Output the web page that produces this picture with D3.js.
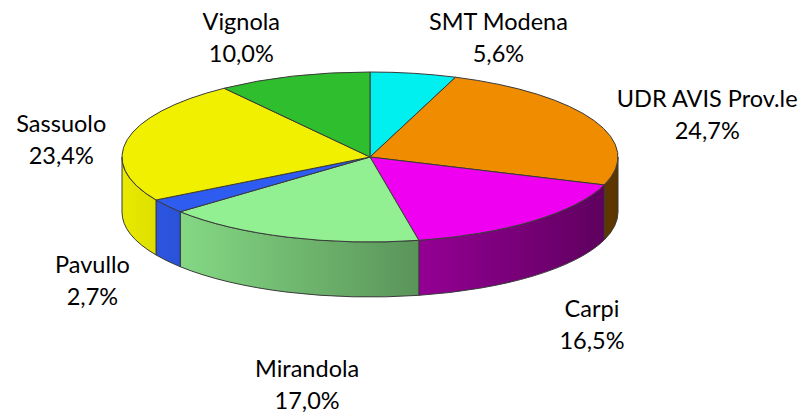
<!DOCTYPE html>
<html>
<head>
<meta charset="utf-8">
<script src="https://cdn.jsdelivr.net/npm/d3@7"></script>
<style>
  body { margin: 0; background: #fff; }
  text { font-family: Lato, "Open Sans", sans-serif; font-size: 23.5px; fill: #000; }
</style>
</head>
<body>
<script>
// data, clockwise from 12 o'clock
const categories = ["SMT Modena", "UDR AVIS Prov.le", "Carpi", "Mirandola", "Pavullo", "Sassuolo", "Vignola"];
const shares = [5.6, 24.7, 16.5, 17.0, 2.7, 23.4, 10.0];

// styles / layout (kept apart from the data)
const colors = ["#00f0f0", "#f08c00", "#f000f0", "#92f092", "#2e5cf0", "#f0f000", "#2ebe2e"];
const labelNudge = [[85, -35], [113, -6], [59, 104], [19, 148], [-75, 75], [-66, 0], [-52, -38]];

const width = 805, height = 416;
const cx = 370, cy = 157, rx = 248, ry = 85, depth = 55;

const svg = d3.select("body").append("svg")
  .attr("width", width)
  .attr("height", height);

const slices = d3.pie().sort(null).value(d => d)(shares);

// project a pie angle onto the tilted ellipse
function pt(a, dy = 0) {
  return [cx + rx * Math.sin(a), cy - ry * Math.cos(a) + dy];
}

function shade(c, k) {
  const r = d3.rgb(c);
  return d3.rgb(r.r * k, r.g * k, r.b * k).formatHex();
}

// gradients for the side walls: lighter left, darker right
const defs = svg.append("defs");
slices.forEach((s, i) => {
  const g = defs.append("linearGradient")
    .attr("id", "side" + i)
    .attr("gradientUnits", "userSpaceOnUse")
    .attr("x1", cx - rx).attr("x2", cx + rx)
    .attr("y1", 0).attr("y2", 0);
  g.append("stop").attr("offset", 0).attr("stop-color", shade(colors[i], 0.97));
  g.append("stop").attr("offset", 1).attr("stop-color", shade(colors[i], 0.38));
});

function sidePath(a0, a1) {
  const p0 = pt(a0), p1 = pt(a1), q1 = pt(a1, depth), q0 = pt(a0, depth);
  const large = (a1 - a0) > Math.PI ? 1 : 0;
  return `M${p0}A${rx},${ry} 0 ${large} 1 ${p1}L${q1}A${rx},${ry} 0 ${large} 0 ${q0}Z`;
}

// side walls of the front half
svg.append("g")
  .selectAll("path")
  .data(slices.map((s, i) => ({ i, a0: Math.max(s.startAngle, Math.PI / 2), a1: Math.min(s.endAngle, 3 * Math.PI / 2) }))
    .filter(d => d.a1 > d.a0))
  .join("path")
    .attr("d", d => sidePath(d.a0, d.a1))
    .attr("fill", d => `url(#side${d.i})`)
    .attr("stroke", "#3a3a3a")
    .attr("stroke-width", 1)
    .attr("stroke-linejoin", "round");

// top faces
const arc = d3.arc().innerRadius(0).outerRadius(rx);
svg.append("g")
  .attr("transform", `translate(${cx},${cy}) scale(1,${ry / rx})`)
  .selectAll("path")
  .data(slices)
  .join("path")
    .attr("d", arc)
    .attr("fill", (d, i) => colors[i])
    .attr("stroke", "#3a3a3a")
    .attr("stroke-width", 1)
    .attr("stroke-linejoin", "round")
    .attr("vector-effect", "non-scaling-stroke");

// labels
const fmt = v => d3.format(".1f")(v).replace(".", ",") + "%";
const labels = svg.append("g")
  .selectAll("g")
  .data(slices)
  .join("g")
    .attr("transform", (d, i) => {
      const m = (d.startAngle + d.endAngle) / 2;
      const p = pt(m);
      return `translate(${p[0] + labelNudge[i][0]},${p[1] + labelNudge[i][1]})`;
    });

labels.append("text")
  .attr("text-anchor", "middle")
  .attr("y", -8)
  .text((d, i) => categories[i]);

labels.append("text")
  .attr("text-anchor", "middle")
  .attr("y", 24)
  .text(d => fmt(d.value));
</script>
</body>
</html>
